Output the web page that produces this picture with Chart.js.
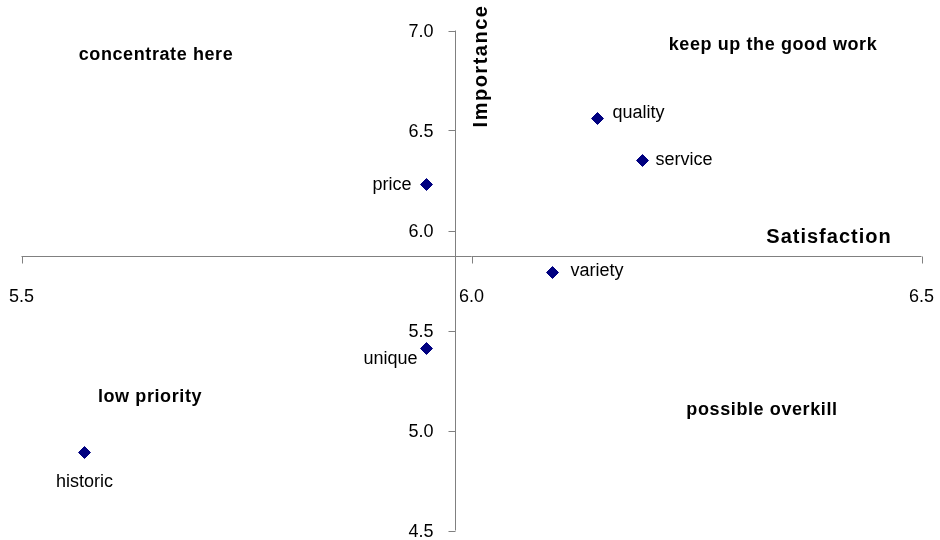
<!DOCTYPE html>
<html>
<head>
<meta charset="utf-8">
<script src="https://cdn.jsdelivr.net/npm/chart.js@4.4.0/dist/chart.umd.min.js"></script>
<style>
  html, body { margin: 0; padding: 0; background: #fff; }
  #wrap { width: 940px; height: 540px; }
</style>
</head>
<body>
<div id="wrap"><canvas id="chart"></canvas></div>
<script>
const attributes = ["price", "quality", "service", "variety", "unique", "historic"];
const satisfaction = [5.95, 6.14, 6.19, 6.09, 5.95, 5.57];
const importance = [6.23, 6.56, 6.35, 5.79, 5.41, 4.89];
const xTicks = [5.5, 6.0, 6.5];
const yTicks = [4.5, 5.0, 5.5, 6.0, 6.5, 7.0];
const quadrantLabels = ["concentrate here", "keep up the good work", "low priority", "possible overkill"];

// axes cross at the average of each measure
const avg = a => a.reduce((s, v) => s + v, 0) / a.length;
const crossX = avg(satisfaction);
const crossY = avg(importance);

const FONT = '"Liberation Sans", Arial, sans-serif';
const AXIS = "#808080";

// the two axes cross inside the plot, so they are drawn here from the scales
const crossAxes = {
  id: "crossAxes",
  beforeDatasetsDraw(chart) {
    const ctx = chart.ctx;
    const sx = chart.scales.x, sy = chart.scales.y;
    const ax = Math.round(sx.getPixelForValue(crossX)) + 0.5;
    const ay = Math.round(sy.getPixelForValue(crossY)) + 0.5;
    const left = sx.getPixelForValue(xTicks[0]), right = sx.getPixelForValue(xTicks[xTicks.length - 1]);
    const top = sy.getPixelForValue(yTicks[yTicks.length - 1]), bottom = sy.getPixelForValue(yTicks[0]);
    ctx.save();
    ctx.strokeStyle = AXIS;
    ctx.lineWidth = 1;
    ctx.beginPath();
    ctx.moveTo(left, ay); ctx.lineTo(right, ay);
    ctx.moveTo(ax, top); ctx.lineTo(ax, bottom);
    xTicks.forEach(v => {
      const px = Math.round(sx.getPixelForValue(v)) + 0.5;
      ctx.moveTo(px, ay); ctx.lineTo(px, ay + 7);
    });
    yTicks.forEach(v => {
      const py = Math.round(sy.getPixelForValue(v)) + 0.5;
      ctx.moveTo(ax, py); ctx.lineTo(ax - 7, py);
    });
    ctx.stroke();

    ctx.fillStyle = "#000";
    ctx.font = "18px " + FONT;
    ctx.textBaseline = "alphabetic";
    ctx.textAlign = "center";
    xTicks.forEach(v => ctx.fillText(v.toFixed(1), sx.getPixelForValue(v), ay + 45));
    ctx.textAlign = "right";
    yTicks.forEach(v => ctx.fillText(v.toFixed(1), ax - 22, sy.getPixelForValue(v) + 6.5));
    ctx.restore();
  }
};

const textPlugin = {
  id: "quadText",
  afterDatasetsDraw(chart) {
    const ctx = chart.ctx;
    const pts = chart.getDatasetMeta(0).data;
    // offset of each name from its marker: dx, dy, alignment
    const place = [[-15, 1, "right"], [15, -5, "left"], [13, 0, "left"], [18, -1, "left"], [-9, 11, "right"], [0, 30, "center"]];
    ctx.save();
    ctx.fillStyle = "#000";
    ctx.textBaseline = "middle";
    ctx.font = "18px " + FONT;
    pts.forEach((p, i) => {
      const [dx, dy, al] = place[i];
      ctx.textAlign = al;
      ctx.fillText(attributes[i], p.x + dx, p.y + dy);
    });

    // quadrant captions
    const spots = [[156, 55], [773, 45], [150, 397], [762, 410]];
    ctx.font = "bold 18px " + FONT;
    ctx.letterSpacing = "0.6px";
    ctx.textAlign = "center";
    quadrantLabels.forEach((t, i) => ctx.fillText(t, spots[i][0], spots[i][1]));

    // axis titles
    ctx.font = "bold 20px " + FONT;
    ctx.letterSpacing = "1px";
    ctx.fillText("Satisfaction", 829, 237);
    ctx.translate(481, 66);
    ctx.rotate(-Math.PI / 2);
    ctx.letterSpacing = "1.5px";
    ctx.fillText("Importance", 0, 0);
    ctx.restore();
  }
};

new Chart(document.getElementById("chart"), {
  type: "scatter",
  data: {
    datasets: [{
      data: satisfaction.map((x, i) => ({ x: x, y: importance[i] })),
      pointStyle: "rectRot",
      pointRadius: 6,
      pointHoverRadius: 6,
      backgroundColor: "#000080",
      borderColor: "#000080",
      borderWidth: 1
    }]
  },
  options: {
    responsive: true,
    maintainAspectRatio: false,
    animation: false,
    layout: { padding: { left: 21.5, right: 18.5, top: 30.5, bottom: 9.5 } },
    plugins: { legend: { display: false }, tooltip: { enabled: false } },
    scales: {
      x: { type: "linear", min: xTicks[0], max: xTicks[xTicks.length - 1], display: false },
      y: { type: "linear", min: yTicks[0], max: yTicks[yTicks.length - 1], display: false }
    }
  },
  plugins: [crossAxes, textPlugin]
});
</script>
</body>
</html>
